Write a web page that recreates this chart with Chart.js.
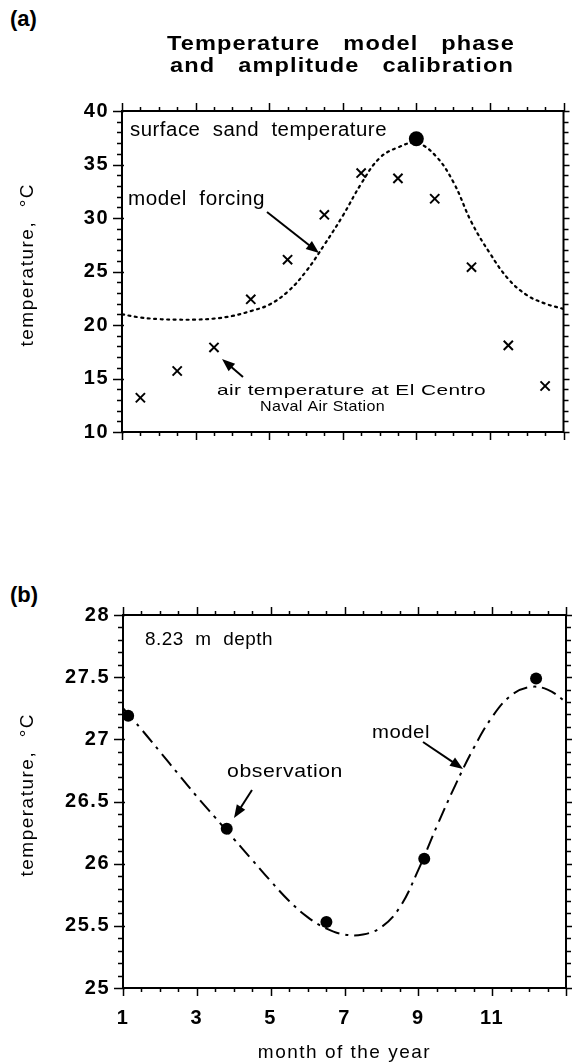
<!DOCTYPE html>
<html>
<head>
<meta charset="utf-8">
<script src="https://cdn.jsdelivr.net/npm/chart.js@4/dist/chart.umd.min.js"></script>
<style>
  html, body { margin: 0; padding: 0; background: #fff; }
  body { width: 572px; height: 1064px; position: relative; overflow: hidden; font-family: "Liberation Sans", Arial, sans-serif; }
  .panel { position: absolute; left: 0; }
  .tag { position: absolute; left: 10px; font: bold 22px "Liberation Sans", Arial, sans-serif; color: #000; }
</style>
</head>
<body>
<div class="tag" style="top:6px;">(a)</div>
<div class="tag" style="top:582px;">(b)</div>
<canvas id="chartA" class="panel" style="top:0px;" width="572" height="480"></canvas>
<canvas id="chartB" class="panel" style="top:560px;" width="572" height="504"></canvas>
<script>
// ---------- Panel (a) data ----------
const airMonths = [1.5, 2.5, 3.5, 4.5, 5.5, 6.5, 7.5, 8.5, 9.5, 10.5, 11.5, 12.5];
const airTemp   = [13.2, 15.7, 17.9, 22.4, 26.1, 30.3, 34.2, 33.7, 31.8, 25.4, 18.1, 14.3];
const sandMonths = [9];
const sandTemp   = [37.4];
const forcingMonths = [1, 1.5, 2, 2.5, 3, 3.5, 4, 4.5, 5, 5.5, 6, 6.5, 7, 7.5, 8, 8.5, 9, 9.5, 10, 10.5, 11, 11.5, 12, 12.5, 13];
const forcingTemp   = [21.0, 20.7, 20.55, 20.5, 20.5, 20.6, 20.85, 21.3, 21.9, 23.1, 25.0, 27.5, 30.2, 33.2, 35.6, 36.6, 37.0, 35.9, 33.4, 29.6, 26.7, 24.3, 22.8, 22.0, 21.5];
const yTicksA = [10, 15, 20, 25, 30, 35, 40];

// ---------- Panel (b) data ----------
const obsMonths = [1.14, 3.81, 6.51, 9.16, 12.19];
const obsTemp   = [27.19, 26.28, 25.53, 26.04, 27.49];
const modelMonths = [1, 1.5, 2, 2.5, 3, 3.5, 4, 4.5, 5, 5.5, 6, 6.5, 7, 7.5, 8, 8.5, 9, 9.5, 10, 10.5, 11, 11.5, 12, 12.5, 13];
const modelTemp   = [27.25, 27.08, 26.9, 26.72, 26.54, 26.37, 26.2, 26.03, 25.86, 25.7, 25.57, 25.48, 25.43, 25.43, 25.49, 25.65, 25.95, 26.3, 26.63, 26.93, 27.18, 27.35, 27.42, 27.4, 27.3];
const xTickLabelsB = [1, 3, 5, 7, 9, 11];
const yTicksB = [25, 25.5, 26, 26.5, 27, 27.5, 28];

const FONT = '"Liberation Sans", Arial, sans-serif';
const zip = (xs, ys) => xs.map((x, i) => ({ x, y: ys[i] }));

// Draw text with a small base letter spacing, then stretch horizontally to the target width
function fitText(ctx, text, x, y, font, targetWidth, baseLS, align) {
  ctx.save();
  ctx.font = font;
  ctx.fillStyle = '#000';
  ctx.textBaseline = 'alphabetic';
  ctx.textAlign = 'left';
  if ('letterSpacing' in ctx) ctx.letterSpacing = (baseLS || 0) + 'px';
  const w = ctx.measureText(text).width;
  const sx = targetWidth ? targetWidth / w : 1;
  const fw = w * sx;
  const x0 = align === 'center' ? x - fw / 2 : x;
  ctx.translate(x0, y);
  ctx.scale(sx, 1);
  ctx.fillText(text, 0, 0);
  ctx.restore();
}

function arrow(ctx, x1, y1, x2, y2) {
  const ang = Math.atan2(y2 - y1, x2 - x1);
  const hl = 13, hw = 5;
  ctx.save();
  ctx.strokeStyle = '#000';
  ctx.fillStyle = '#000';
  ctx.lineWidth = 2;
  ctx.beginPath();
  ctx.moveTo(x1, y1);
  ctx.lineTo(x2 - Math.cos(ang) * hl * 0.8, y2 - Math.sin(ang) * hl * 0.8);
  ctx.stroke();
  ctx.beginPath();
  ctx.moveTo(x2, y2);
  ctx.lineTo(x2 - Math.cos(ang) * hl + Math.sin(ang) * hw, y2 - Math.sin(ang) * hl - Math.cos(ang) * hw);
  ctx.lineTo(x2 - Math.cos(ang) * hl - Math.sin(ang) * hw, y2 - Math.sin(ang) * hl + Math.cos(ang) * hw);
  ctx.closePath();
  ctx.fill();
  ctx.restore();
}

// Frame with minor/major ticks on all four sides, drawn through the scales
function frameTicks(opts) {
  return {
    id: 'frameTicks',
    beforeDraw(chart) {
      if ('letterSpacing' in chart.ctx) chart.ctx.letterSpacing = '1.5px';
    },
    afterDatasetsDraw(chart) {
      const { ctx, chartArea: { left, right, top, bottom }, scales: { x, y } } = chart;
      ctx.save();
      ctx.strokeStyle = '#000';
      ctx.lineWidth = 2;
      ctx.strokeRect(left, top, right - left, bottom - top);
      ctx.lineWidth = 1.5;
      ctx.beginPath();
      const nx = Math.round((x.max - x.min) / opts.xMinor);
      const xr = Math.round(opts.xMajor / opts.xMinor);
      for (let i = 0; i <= nx; i++) {
        const px = Math.round(x.getPixelForValue(x.min + i * opts.xMinor)) + 0.5;
        const len = (i % xr === 0) ? 8 : 4;
        ctx.moveTo(px, bottom); ctx.lineTo(px, bottom + len);
        ctx.moveTo(px, top); ctx.lineTo(px, top - len);
      }
      const ny = Math.round((y.max - y.min) / opts.yMinor);
      const yr = Math.round(opts.yMajor / opts.yMinor);
      for (let i = 0; i <= ny; i++) {
        const py = Math.round(y.getPixelForValue(y.min + i * opts.yMinor)) + 0.5;
        const major = (i % yr === 0);
        const len = major ? 9 : 5;
        ctx.moveTo(left - len, py); ctx.lineTo(left + (major ? 2 : 0), py);
        ctx.moveTo(right, py); ctx.lineTo(right + (major ? 6 : 5), py);
      }
      ctx.stroke();
      ctx.restore();
    }
  };
}

const annotA = {
  id: 'annotA',
  afterDraw(chart) {
    const ctx = chart.ctx;
    fitText(ctx, 'Temperature   model   phase', 341, 50, 'bold 21px ' + FONT, 348, 1, 'center');
    fitText(ctx, 'and   amplitude   calibration', 342, 72, 'bold 21px ' + FONT, 344, 1, 'center');
    fitText(ctx, 'surface  sand  temperature', 130, 136, '20px ' + FONT, 257, 0.5);
    fitText(ctx, 'model  forcing', 128, 205, '20px ' + FONT, 137, 0.5);
    arrow(ctx, 267, 212, 319, 253);
    fitText(ctx, 'air temperature at El Centro', 217, 395, '15px ' + FONT, 269, 0.3);
    fitText(ctx, 'Naval Air Station', 260, 411, '15px ' + FONT, 125, 0.3);
    arrow(ctx, 243, 377, 222, 359);
  }
};

const annotB = {
  id: 'annotB',
  afterDraw(chart) {
    const ctx = chart.ctx;
    fitText(ctx, '8.23  m  depth', 145, 85, '19px ' + FONT, 128, 0.5);
    fitText(ctx, 'observation', 227, 217, '19px ' + FONT, 116, 0.5);
    arrow(ctx, 252, 230, 234, 258);
    fitText(ctx, 'model', 372, 178, '19px ' + FONT, 58, 0.5);
    arrow(ctx, 423, 182, 463, 209);
  }
};

Chart.defaults.font.family = FONT;
Chart.defaults.color = '#000';

const plainLabel = (v) => String(v);

new Chart(document.getElementById('chartA'), {
  type: 'scatter',
  data: {
    datasets: [
      {
        label: 'model forcing',
        data: zip(forcingMonths, forcingTemp),
        showLine: true,
        borderColor: '#000',
        borderWidth: 2.2,
        borderDash: [2, 4.5],
        borderCapStyle: 'round',
        tension: 0.4,
        pointRadius: 0,
        fill: false
      },
      {
        label: 'air temperature at El Centro',
        data: zip(airMonths, airTemp),
        pointStyle: 'crossRot',
        pointRadius: 6.5,
        borderWidth: 2,
        borderColor: '#000',
        backgroundColor: '#000',
        clip: false
      },
      {
        label: 'surface sand temperature',
        data: zip(sandMonths, sandTemp),
        pointStyle: 'circle',
        pointRadius: 7.5,
        borderWidth: 0,
        backgroundColor: '#000',
        clip: false
      }
    ]
  },
  options: {
    responsive: false,
    animation: false,
    events: [],
    layout: { padding: { left: 0, right: 7, top: 111, bottom: 0 } },
    plugins: { legend: { display: false }, tooltip: { enabled: false }, title: { display: false } },
    scales: {
      x: {
        type: 'linear', min: 1, max: 13,
        grid: { display: false, drawTicks: false },
        border: { display: false },
        ticks: { display: false, stepSize: 2 },
        afterFit(scale) { scale.height = 48; }
      },
      y: {
        type: 'linear', min: 10, max: 40,
        grid: { display: false, drawTicks: false },
        border: { display: false },
        afterBuildTicks(scale) { scale.ticks = yTicksA.map(v => ({ value: v })); },
        ticks: { padding: 13, font: { size: 20, weight: 'bold' }, color: '#000', callback: plainLabel },
        title: { display: true, text: '  temperature,  °C', font: { size: 19 }, color: '#000', padding: { top: 16, bottom: 0 } },
        afterFit(scale) { scale.width = 122; }
      }
    }
  },
  plugins: [frameTicks({ xMinor: 0.5, xMajor: 2, yMinor: 1, yMajor: 5 }), annotA]
});

new Chart(document.getElementById('chartB'), {
  type: 'scatter',
  data: {
    datasets: [
      {
        label: 'model',
        data: zip(modelMonths, modelTemp),
        showLine: true,
        borderColor: '#000',
        borderWidth: 2,
        borderDash: [15, 6, 3, 6],
        tension: 0.4,
        pointRadius: 0,
        fill: false
      },
      {
        label: 'observation',
        data: zip(obsMonths, obsTemp),
        pointStyle: 'circle',
        pointRadius: 6,
        borderWidth: 0,
        backgroundColor: '#000',
        clip: false
      }
    ]
  },
  options: {
    responsive: false,
    animation: false,
    events: [],
    layout: { padding: { left: 0, right: 5, top: 55, bottom: 0 } },
    plugins: { legend: { display: false }, tooltip: { enabled: false }, title: { display: false } },
    scales: {
      x: {
        type: 'linear', min: 1, max: 13,
        grid: { display: false, drawTicks: false },
        border: { display: false },
        afterBuildTicks(scale) { scale.ticks = xTickLabelsB.map(v => ({ value: v })); },
        ticks: { padding: 18, font: { size: 20, weight: 'bold' }, color: '#000', maxRotation: 0, callback: plainLabel },
        title: { display: true, text: 'month of the year', font: { size: 19 }, color: '#000', padding: { top: 0, bottom: 0 } },
        afterFit(scale) { scale.height = 76; }
      },
      y: {
        type: 'linear', min: 25, max: 28,
        grid: { display: false, drawTicks: false },
        border: { display: false },
        afterBuildTicks(scale) { scale.ticks = yTicksB.map(v => ({ value: v })); },
        ticks: { padding: 13, font: { size: 20, weight: 'bold' }, color: '#000', callback: plainLabel },
        title: { display: true, text: '  temperature,  °C', font: { size: 19 }, color: '#000', padding: { top: 16, bottom: 0 } },
        afterFit(scale) { scale.width = 123; }
      }
    }
  },
  plugins: [frameTicks({ xMinor: 0.5, xMajor: 2, yMinor: 0.1, yMajor: 0.5 }), annotB]
});
</script>
</body>
</html>
